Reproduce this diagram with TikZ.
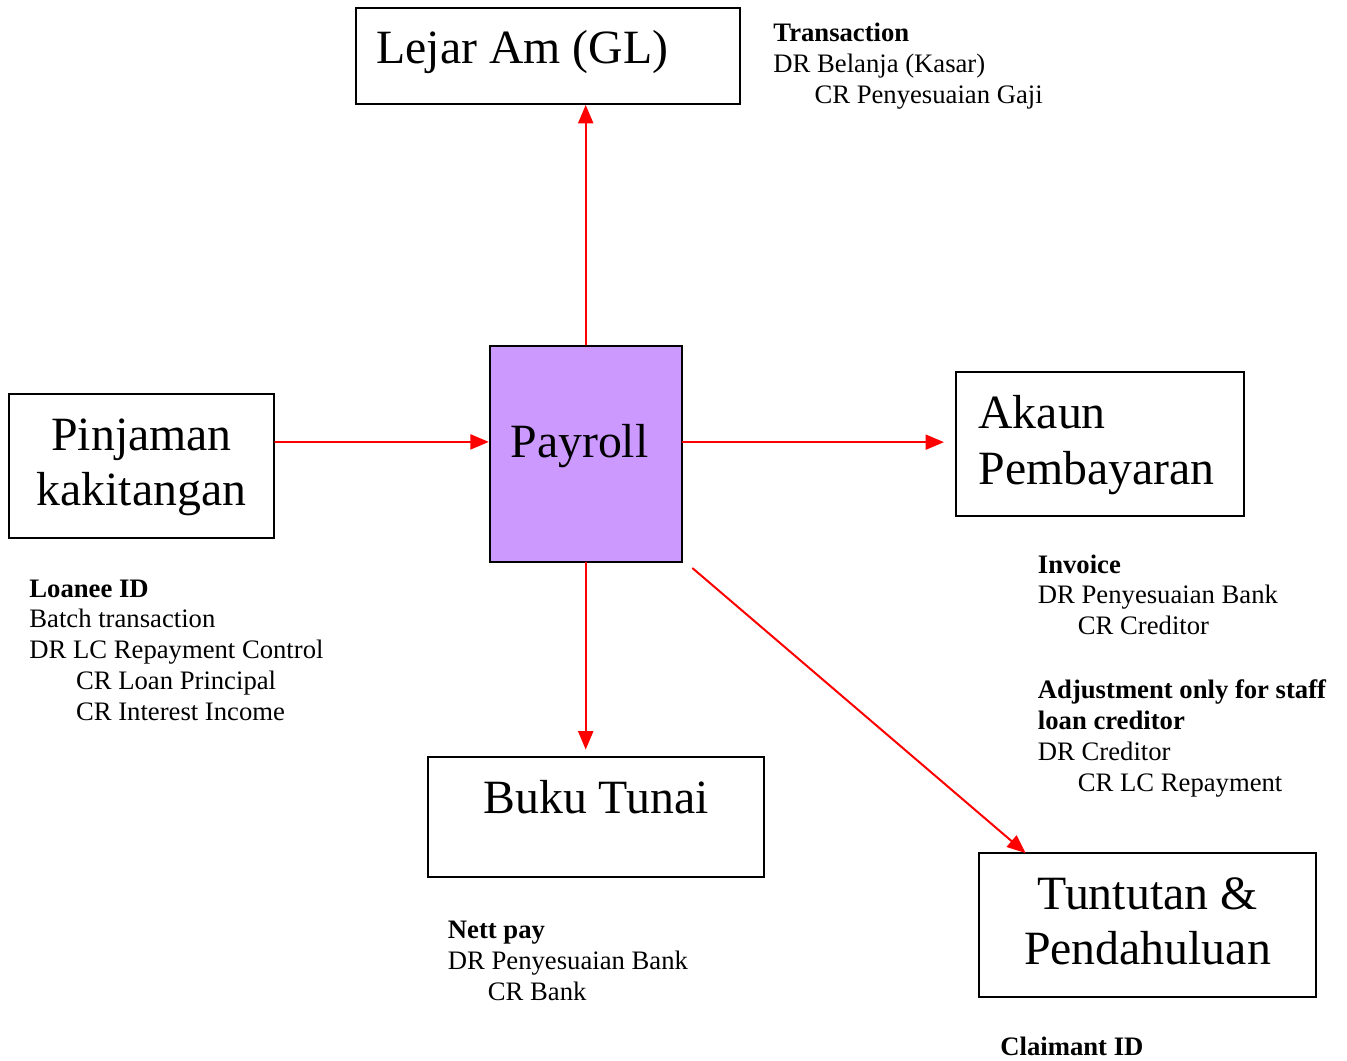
\documentclass[tikz,border=0pt]{standalone}
\usepackage{fontspec}
\setmainfont{Liberation Serif}
\usetikzlibrary{arrows}
\usetikzlibrary{calc}

\definecolor{payfill}{HTML}{CC99FF}

\begin{document}
\begin{tikzpicture}[line cap=round,>=triangle 45,x=0.45pt,y=-0.45pt,
  box/.style={draw,line width=0.9pt,inner sep=0pt},
  flow/.style={->,draw=red,line width=0.9pt},
  big/.style={inner sep=0pt,font=\fontsize{21.5}{25}\selectfont},
  note/.style={anchor=base west,inner sep=0pt,font=\fontsize{12}{13.9}\selectfont}]
\useasboundingbox (0,0) rectangle (1347,1061);
% boxes
\node[box,minimum width=384*0.45pt,minimum height=96*0.45pt] (gl) at (548,56) {};
\node[box,fill=payfill,minimum width=192*0.45pt,minimum height=216*0.45pt] (pay) at (585.7,453.7) {};
\node[box,minimum width=265*0.45pt,minimum height=144*0.45pt] (pin) at (141.5,466) {};
\node[box,minimum width=288*0.45pt,minimum height=144*0.45pt] (aka) at (1100,444) {};
\node[box,minimum width=336*0.45pt,minimum height=120*0.45pt] (buku) at (596,816.5) {};
\node[box,minimum width=337*0.45pt,minimum height=144*0.45pt] (tun) at (1147.5,925) {};
% box texts
\node[big,anchor=base west] (gltxt) at (376,64) {Lejar Am (GL)};
\node[big,anchor=base west] (paytxt) at (510,458) {Payroll};
\node[big,anchor=base] (pintxt) at (141.5,450) {\begin{tabular}[t]{@{}c@{}}Pinjaman\\kakitangan\end{tabular}};
\node[big,anchor=base west] (akatxt) at (978,429) {\begin{tabular}[t]{@{}l@{}}Akaun\\Pembayaran\end{tabular}};
\node[big,anchor=base west] (bukutxt) at (483,813) {Buku Tunai};
\node[big,anchor=base] (tuntxt) at (1147.5,909) {\begin{tabular}[t]{@{}c@{}}Tuntutan \&\\Pendahuluan\end{tabular}};
% transactions
\node[note] (trans) at (773,41.5) {\begin{tabular}[t]{@{}l@{}}\textbf{Transaction}\\DR Belanja (Kasar)\\\hspace*{18.5pt}CR Penyesuaian Gaji\end{tabular}};
\node[note] (loanee) at (29,597) {\begin{tabular}[t]{@{}l@{}}\textbf{Loanee ID}\\Batch transaction\\DR LC Repayment Control\\\hspace*{21pt}CR Loan Principal\\\hspace*{21pt}CR Interest Income\end{tabular}};
\node[note] (invoice) at (1037.5,573) {\begin{tabular}[t]{@{}l@{}}\textbf{Invoice}\\DR Penyesuaian Bank\\\hspace*{18pt}CR Creditor\end{tabular}};
\node[note] (adjust) at (1037.5,698.5) {\begin{tabular}[t]{@{}l@{}}\textbf{Adjustment only for staff}\\\textbf{loan creditor}\\DR Creditor\\\hspace*{18pt}CR LC Repayment\end{tabular}};
\node[note] (nett) at (447.5,938.5) {\begin{tabular}[t]{@{}l@{}}\textbf{Nett pay}\\DR Penyesuaian Bank\\\hspace*{18pt}CR Bank\end{tabular}};
\node[note] (claim) at (1000,1055) {\textbf{Claimant ID}};
% connectors
\coordinate (pinout) at ($(pin.north east)!.335!(pin.south east)$);
\coordinate (payout) at ($(pay.north east)!.447!(pay.south east)$);
\draw[flow] (pay.north) -- (pay.north |- gl.south);
\draw[flow] (pinout) -- (pinout -| pay.west);
\draw[flow,shorten >=5pt] (payout) -- (payout -| aka.west);
\draw[flow,shorten >=2.7pt] (pay.south) -- (pay.south |- buku.north);
\draw[flow] ($(pay.south east)+(10,5.6)$) -- ($(tun.north west)+(47.5,1)$);
\end{tikzpicture}
\end{document}
